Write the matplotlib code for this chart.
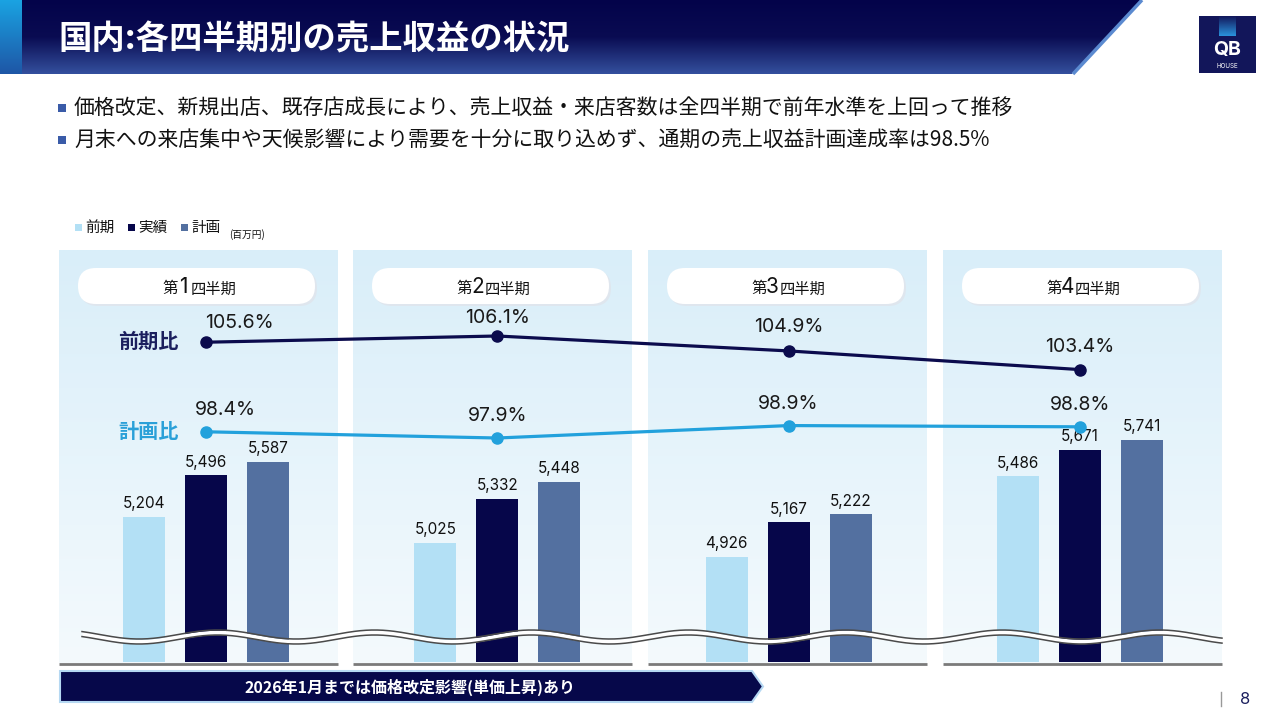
import numpy as np
import matplotlib
matplotlib.use("Agg")
import matplotlib.pyplot as plt
from matplotlib.patches import FancyBboxPatch, Polygon, Rectangle
from matplotlib.colors import LinearSegmentedColormap

plt.rcParams['font.family'] = ['Noto Sans CJK JP', 'DejaVu Sans']

# ---- data ----
quarters = ['1', '2', '3', '4']
prev_year = [5204, 5025, 4926, 5486]
actual = [5496, 5332, 5167, 5671]
plan = [5587, 5448, 5222, 5741]
yoy_ratio = [105.6, 106.1, 104.9, 103.4]
plan_ratio = [98.4, 97.9, 98.9, 98.8]
series_names = ['前期', '実績', '計画']
bullets = ['価格改定、新規出店、既存店成長により、売上収益・来店客数は全四半期で前年水準を上回って推移',
           '月末への来店集中や天候影響により需要を十分に取り込めず、通期の売上収益計画達成率は98.5%']

c_prev = '#b3e0f5'
c_act = '#06064a'
c_plan = '#5370a0'
c_yoy = '#0b0b4d'
c_pln = '#22a1dc'
num_font = ['Inter', 'DejaVu Sans']

W, H = 1280, 720
fig = plt.figure(figsize=(12.8, 7.2), dpi=100)

# background / decoration axes in pixel coords
bg = fig.add_axes([0, 0, 1, 1], zorder=0)
bg.set_xlim(0, W)
bg.set_ylim(H, 0)
bg.axis('off')


def vgrad(ax, x0, x1, y0, y1, c_top, c_bot, clip=None, z=0):
    cm = LinearSegmentedColormap.from_list('g', [c_top, c_bot])
    im = ax.imshow(np.linspace(0, 1, 256).reshape(-1, 1), cmap=cm, aspect='auto',
                   extent=(x0, x1, y1, y0), zorder=z, interpolation='bilinear')
    if clip is not None:
        im.set_clip_path(clip)
    return im


# title bar
tb = Polygon([(0, 0), (1141, 0), (1072, 74), (0, 74)], closed=True, fc='none', ec='none')
bg.add_patch(tb)
cm_title = LinearSegmentedColormap.from_list('t', ['#03034a', '#0a0c52', '#34509e'])
im = bg.imshow(np.linspace(0, 1, 256).reshape(-1, 1), cmap=cm_title, aspect='auto',
               extent=(0, 1141, 74, 0), zorder=1, interpolation='bilinear')
im.set_clip_path(tb)
vgrad(bg, 0, 22, 0, 74, '#1aa3e2', '#1e56a6', z=2)
bg.plot([1142, 1073], [0, 74], color='#5b8ad0', lw=2.5, zorder=3, solid_capstyle='butt')
bg.text(58, 40, '国内:各四半期別の売上収益の状況', color='white', fontsize=24,
        fontweight='bold', va='center', ha='left', zorder=4)

# logo
bg.add_patch(Rectangle((1199, 16), 57, 57, fc='#12165a', ec='none', zorder=2))
vgrad(bg, 1219, 1236, 16, 36, '#12165a', '#2a93dc', z=3)
bg.text(1227.5, 50, 'QB', color='white', fontsize=14, fontweight='bold',
        ha='center', va='center', family=['Inter', 'DejaVu Sans'], zorder=4)
bg.text(1227.5, 66, 'HOUSE', color='white', fontsize=4.5, ha='center', va='center',
        family=['Inter', 'DejaVu Sans'], zorder=4)

# bullets
for i, b in enumerate(bullets):
    yy = 108 + 32 * i
    bg.add_patch(Rectangle((58, yy - 4.5), 8, 8, fc='#3a5ba8', ec='none'))
    bg.text(74, yy, b, fontsize=15, color='#111111', va='center', ha='left')

# legend
for i, (nm, cc) in enumerate(zip(series_names, [c_prev, c_act, c_plan])):
    lx = 75 + 53 * i
    bg.add_patch(Rectangle((lx, 224), 7, 7, fc=cc, ec='none'))
    bg.text(lx + 10, 228, nm, fontsize=10.5, color='#111111', va='center', ha='left')
bg.text(229, 235, '(百万円)', fontsize=7, color='#111111', va='center', ha='left')

# panels
pan_left = [59, 353, 648, 943]
pan_w = 279
for i, pl in enumerate(pan_left):
    vgrad(bg, pl, pl + pan_w, 250, 663, '#d9eef9', '#f4fafd', z=1)
    bg.plot([pl, pl + pan_w], [663.5, 663.5], color='#7a7a7a', lw=2, zorder=3,
            solid_capstyle='butt')
    # pill label
    bg.add_patch(FancyBboxPatch((pl + 21, 270), pan_w - 42, 36,
                                boxstyle='round,pad=0,rounding_size=18',
                                fc='#dfe6ee', ec='none', zorder=2))
    bg.add_patch(FancyBboxPatch((pl + 19, 268), pan_w - 42, 36,
                                boxstyle='round,pad=0,rounding_size=18',
                                fc='white', ec='none', zorder=3))
    cx = pl + pan_w / 2
    bg.text(cx - 15, 287, quarters[i], fontsize=15, color='#111111', ha='center',
            va='center', family=num_font, zorder=4)
    bg.text(cx - 21, 289, '第', fontsize=11, color='#111111', ha='right', va='center', zorder=4)
    bg.text(cx - 8, 289, '四半期', fontsize=11, color='#111111', ha='left', va='center', zorder=4)

bg.text(118, 341, '前期比', fontsize=14.5, fontweight='bold', color='#1b1f5e',
        ha='left', va='center', zorder=4)
bg.text(118, 432, '計画比', fontsize=14.5, fontweight='bold', color='#2aa0d8',
        ha='left', va='center', zorder=4)

# ---- bar axes (full figure, data units) ----
x0_px, step_px = 206.0, 291.3
px_per_val = 0.1438
base_px, base_val = 662.0, 4196.0
ax = fig.add_axes([0, 0, 1, 1], zorder=1)
ax.patch.set_alpha(0)
ax.set_xlim(-x0_px / step_px, (W - x0_px) / step_px)
ax.set_ylim(base_val - (H - base_px) / px_per_val, base_val + base_px / px_per_val)
ax.axis('off')

x = np.arange(len(quarters))
bw = 42 / step_px
off = 62 / step_px
for vals, cc, dx in [(prev_year, c_prev, -off), (actual, c_act, 0), (plan, c_plan, off)]:
    ax.bar(x + dx, np.array(vals) - base_val, bottom=base_val, width=bw, color=cc, zorder=2)
    for xi, v in zip(x + dx, vals):
        ax.annotate(f'{v:,}', (xi, v), xytext=(0, 4), textcoords='offset points',
                    ha='center', va='bottom', fontsize=11, color='#111111', family=num_font)

# ---- ratio axes ----
ax2 = fig.add_axes([0, 0, 1, 1], zorder=2)
ax2.patch.set_alpha(0)
ax2.set_xlim(ax.get_xlim())
ref_px, ref_val, px_per_pct = 336.0, 106.1, 12.44
ax2.set_ylim(ref_val - (H - ref_px) / px_per_pct, ref_val + ref_px / px_per_pct)
ax2.axis('off')

ax2.plot(x, yoy_ratio, color=c_yoy, lw=2.3, marker='o', ms=8, zorder=3)
ax2.plot(x, plan_ratio, color=c_pln, lw=2.3, marker='o', ms=8, zorder=3)
lab_dx_yoy = [24, 0, 0, 0]
lab_dx_pln = [14, 0, 0, 0]
lab_dy_yoy = [14, 13, 17, 16]
for i in range(len(x)):
    ax2.annotate(f'{yoy_ratio[i]:.1f}%', (x[i], yoy_ratio[i]), xytext=(lab_dx_yoy[i], lab_dy_yoy[i]),
                 textcoords='offset points', ha='center', va='center', fontsize=14,
                 color='#1a1a1a', family=num_font)
    ax2.annotate(f'{plan_ratio[i]:.1f}%', (x[i], plan_ratio[i]), xytext=(lab_dx_pln[i], 15.5),
                 textcoords='offset points', ha='center', va='center', fontsize=14,
                 color='#1a1a1a', family=num_font)

# ---- foreground: wave break, banner, page no ----
fg = fig.add_axes([0, 0, 1, 1], zorder=3)
fg.patch.set_alpha(0)
fg.set_xlim(0, W)
fg.set_ylim(H, 0)
fg.axis('off')

wx = np.linspace(82, 1222, 800)
wy = 637 + 4.5 * np.cos(2 * np.pi * (wx - 139) / 157)
fg.fill_between(wx, wy - 2.2, wy + 2.2, color='white', lw=0, zorder=1)
fg.plot(wx, wy - 2.5, color='#4a4a4a', lw=1.1, zorder=2)
fg.plot(wx, wy + 2.5, color='#4a4a4a', lw=1.1, zorder=2)

banner = Polygon([(60, 671), (752, 671), (763, 686.5), (752, 702), (60, 702)], closed=True,
                 fc='#06084a', ec='#b5d8f2', lw=1.5, zorder=3)
fg.add_patch(banner)
fg.text(410, 687, '2026年1月までは価格改定影響(単価上昇)あり', color='white', fontsize=11.5,
        fontweight='bold', ha='center', va='center', zorder=4)

fg.plot([1221, 1221], [692, 706], color='#999999', lw=1, zorder=3)
fg.text(1245, 700, '8', color='#1b1f5e', fontsize=12, ha='center', va='center',
        family=num_font, zorder=4)

fig.savefig('out.png', dpi=100, facecolor='white')
